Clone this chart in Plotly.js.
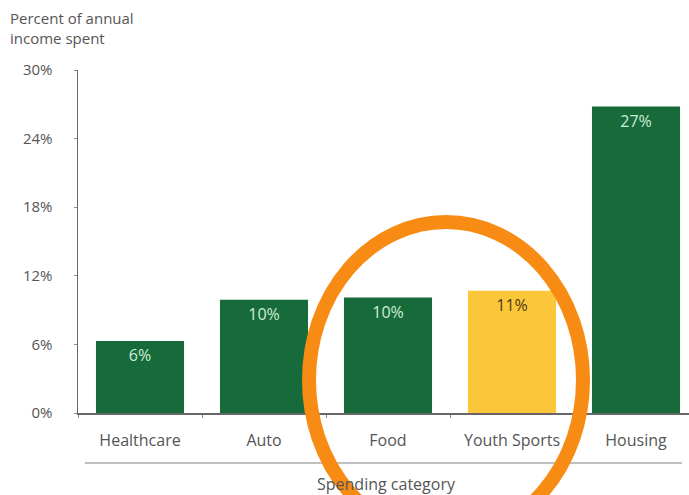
<!DOCTYPE html>
<html><head><meta charset="utf-8">
<script src="https://cdn.plot.ly/plotly-3.0.1.min.js"></script>
<style>html,body{margin:0;padding:0;background:#fff}#chart{width:689px;height:495px}</style>
</head><body><div id="chart"></div>
<script>
const categories = ["Healthcare", "Auto", "Food", "Youth Sports", "Housing"];
const percentSpent = [6.3, 9.9, 10.1, 10.7, 26.8];
const barLabels = ["6%", "10%", "10%", "11%", "27%"];
const barColors = ["#176a3a", "#176a3a", "#176a3a", "#fcc63a", "#176a3a"];
const labelColors = ["#cdeed6", "#cdeed6", "#cdeed6", "#4a3a10", "#cdeed6"];
const yTicks = [0, 6, 12, 18, 24, 30];
const yTickLabels = ["0%", "6%", "12%", "18%", "24%", "30%"];

const font = "'Open Sans', Lato, sans-serif";
const W = 689, H = 495, L = 78, R = 0, T = 70, B = 82;
const pw = W - L - R, ph = H - T - B;
const px = v => (v - L) / pw;
const py = v => (H - B - v) / ph;

Plotly.newPlot("chart", [{
  type: "bar",
  x: categories,
  y: percentSpent,
  marker: {color: barColors},
  width: 0.71,
  text: barLabels,
  textposition: "inside",
  insidetextanchor: "end",
  textangle: 0,
  textfont: {family: font, size: 16, color: labelColors},
  hoverinfo: "none"
}], {
  width: W, height: H,
  margin: {l: L, r: R, t: T, b: B},
  paper_bgcolor: "#fff", plot_bgcolor: "#fff",
  showlegend: false,
  xaxis: {
    range: [-0.5, -0.5 + pw / 124],
    showline: true, linecolor: "#666", linewidth: 1.5,
    ticks: "outside", tickson: "boundaries", ticklen: 3, tickcolor: "#888",
    tickfont: {family: font, size: 16, color: "#555"},
    ticklabelstandoff: 12,
    showgrid: false, zeroline: false, fixedrange: true
  },
  yaxis: {
    range: [0, 30],
    tickvals: yTicks, ticktext: yTickLabels,
    showline: true, linecolor: "#666", linewidth: 1.5,
    ticks: "outside", ticklen: 3, tickcolor: "#888",
    tickfont: {family: font, size: 15, color: "#555"},
    ticklabelstandoff: 18,
    showgrid: false, zeroline: false, fixedrange: true
  },
  annotations: [
    {text: "Percent of annual<br>income spent", xref: "paper", yref: "paper",
     x: px(8), y: py(6), xanchor: "left", yanchor: "top", align: "left",
     showarrow: false, font: {family: font, size: 15, color: "#555"}},
    {text: "Spending category", xref: "paper", yref: "paper",
     x: px(386), y: py(484), xanchor: "center", yanchor: "middle",
     showarrow: false, font: {family: font, size: 16, color: "#555"}}
  ],
  shapes: [
    {type: "line", xref: "paper", yref: "paper", x0: px(85), x1: px(682),
     y0: py(463), y1: py(463), line: {color: "#aaa", width: 1.5}},
    {type: "circle", xref: "paper", yref: "paper", layer: "above",
     x0: px(309), x1: px(583), y0: py(538), y1: py(222),
     line: {color: "#f78b14", width: 14}}
  ]
}, {displayModeBar: false, staticPlot: true});
</script></body></html>
